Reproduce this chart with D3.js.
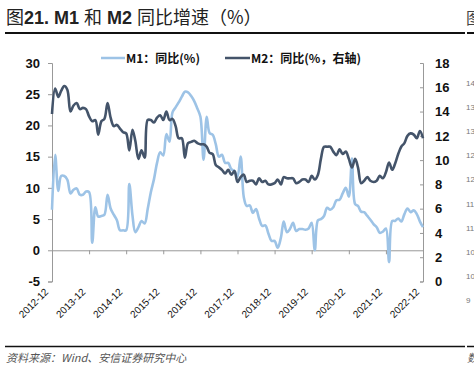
<!DOCTYPE html>
<html>
<head>
<meta charset="utf-8">
<script src="https://cdn.jsdelivr.net/npm/d3@7"></script>
<style>
  body { margin: 0; background: #fff; }
  svg { display: block; font-family: "Liberation Sans", Arial, sans-serif; }
  .title { font-size: 18px; fill: #222; }
  .source { font-size: 11px; fill: #555; font-style: italic; font-family: "Noto Sans CJK SC", sans-serif; }
  .axis text { font-size: 13px; font-weight: bold; fill: #111; }
  .axis path, .axis line { stroke: #999; }
  .xlab { font-size: 10px; fill: #111; }
  .legend text { font-size: 12px; font-weight: bold; fill: #111; }
</style>
</head>
<body>
<div class="chart"></div>
<script>
"use strict";

// months from 2012-12 to 2022-12
const start_month = "2012-12";
const x_tick_labels = ["2012-12", "2013-12", "2014-12", "2015-12", "2016-12", "2017-12",
    "2018-12", "2019-12", "2020-12", "2021-12", "2022-12"];

// M1 YoY (%), left axis
const m1_values = [
    6.5,
    15.3, 9.5, 11.9, 11.9, 11.3, 9.1, 9.7, 9.9, 8.9, 8.9, 9.4, 9.3,
    1.2, 6.9, 5.4, 5.5, 5.7, 8.9, 6.7, 5.7, 4.8, 3.2, 3.2, 3.2,
    10.6, 5.6, 2.9, 3.7, 4.7, 4.3, 6.6, 9.3, 11.4, 14.0, 15.7, 15.2,
    18.6, 17.4, 22.1, 22.9, 23.7, 24.6, 25.4, 25.3, 24.7, 23.9, 22.7, 21.4,
    14.5, 21.4, 18.8, 18.5, 17.0, 15.0, 15.3, 14.0, 14.0, 13.0, 12.7, 11.8,
    15.0, 8.5, 7.1, 7.2, 6.0, 6.6, 5.1, 3.9, 4.0, 2.7, 1.5, 1.5,
    0.4, 2.0, 4.6, 2.9, 3.4, 4.4, 3.1, 3.4, 3.4, 3.3, 3.5, 4.4,
    0.0, 4.8, 5.0, 5.5, 6.8, 6.5, 6.9, 8.0, 8.1, 9.1, 10.0, 8.6,
    14.7, 7.4, 7.1, 6.2, 6.1, 5.5, 4.9, 4.2, 3.7, 2.8, 3.0, 3.5,
    -1.9, 4.7, 4.7, 5.1, 4.6, 5.8, 6.7, 6.1, 6.4, 5.8, 4.6, 3.7
];

// M2 YoY (%), right axis
const m2_values = [
    13.8,
    15.9, 15.2, 15.7, 16.1, 15.8, 14.0, 14.5, 14.7, 14.2, 14.3, 14.2, 13.6,
    13.2, 13.3, 12.1, 13.2, 13.4, 14.7, 13.5, 12.8, 12.9, 12.6, 12.3, 12.2,
    10.8, 12.5, 11.6, 10.1, 10.8, 10.2, 13.3, 13.3, 13.1, 13.5, 13.7, 13.3,
    14.0, 13.3, 13.4, 12.8, 11.8, 11.8, 10.2, 11.4, 11.5, 11.6, 11.4, 11.3,
    11.3, 11.1, 10.6, 10.5, 9.6, 9.4, 9.2, 8.9, 9.2, 8.8, 9.1, 8.2,
    8.6, 8.8, 8.2, 8.3, 8.3, 8.0, 8.5, 8.2, 8.3, 8.0, 8.0, 8.1,
    8.4, 8.0, 8.6, 8.5, 8.5, 8.5, 8.1, 8.2, 8.4, 8.4, 8.2, 8.7,
    8.4, 8.8, 10.1, 11.1, 11.1, 11.1, 10.7, 10.4, 10.9, 10.5, 10.7, 10.1,
    9.4, 10.1, 9.4, 8.1, 8.3, 8.6, 8.3, 8.2, 8.3, 8.7, 8.5, 9.0,
    9.8, 9.2, 9.7, 10.5, 11.1, 11.4, 12.0, 12.2, 12.1, 11.8, 12.4, 11.8
];

const left_ticks = [-5, 0, 5, 10, 15, 20, 25, 30];
const right_ticks = [0, 2, 4, 6, 8, 10, 12, 14, 16, 18];
// cut-off labels of the neighbouring chart at the right edge
const neighbour_ticks = ["14", "13", "13", "12", "12", "11", "11", "10", "10", "9"];

window.onload = () => main();

function main() {
    const config = {
        width: 474, height: 368,
        left: 52, right: 423, top: 63, bottom: 281.5
    };

    const svg = d3.select(".chart").append("svg")
        .attr("width", config.width)
        .attr("height", config.height);

    const parse = d3.timeParse("%Y-%m");
    const t0 = parse(start_month);
    const months = m1_values.map((_, i) => d3.timeMonth.offset(t0, i));

    const x = d3.scaleTime()
        .domain([months[0], months[months.length - 1]])
        .range([config.left, config.right]);
    const y_left = d3.scaleLinear().domain([-5, 30]).range([config.bottom, config.top]);
    const y_right = d3.scaleLinear().domain([0, 18]).range([config.bottom, config.top]);

    // title + rules
    svg.append("text").attr("class", "title").attr("x", 6).attr("y", 24)
        .html('<tspan font-family="Noto Sans CJK SC">图</tspan><tspan font-weight="bold">21. M1 </tspan><tspan font-family="Noto Sans CJK SC">和</tspan><tspan font-weight="bold"> M2 </tspan><tspan font-family="Noto Sans CJK SC">同比增速（%）</tspan>');
    svg.append("text").attr("x", 466).attr("y", 24).attr("font-size", 16)
        .attr("fill", "#444").attr("font-family", "Noto Sans CJK SC").text("图");
    [[5, 465], [467, 474]].forEach(([a, b]) => {
        svg.append("line").attr("x1", a).attr("x2", b).attr("y1", 33).attr("y2", 33)
            .attr("stroke", "#111").attr("stroke-width", 2);
        svg.append("line").attr("x1", a).attr("x2", b).attr("y1", 346.5).attr("y2", 346.5)
            .attr("stroke", "#111").attr("stroke-width", 1.5);
    });
    svg.append("text").attr("class", "source").attr("x", 6).attr("y", 362)
        .text("资料来源：Wind、安信证券研究中心");
    svg.append("text").attr("class", "source").attr("x", 467).attr("y", 362).text("数");

    neighbour_ticks.forEach((t, i) => {
        svg.append("text").attr("x", 466).attr("y", 86 + i * 24.1)
            .attr("font-size", 8).attr("fill", "#777").text(t);
    });

    // axes
    svg.append("g").attr("class", "axis")
        .attr("transform", `translate(${config.left},0)`)
        .call(d3.axisLeft(y_left).tickValues(left_ticks).tickSize(4).tickPadding(8)
            .tickFormat(d => String(d)))
        .call(g => g.select(".domain").attr("stroke", "#888"));

    svg.append("g").attr("class", "axis")
        .attr("transform", `translate(${config.right},0)`)
        .call(d3.axisRight(y_right).tickValues(right_ticks).tickSize(-3).tickPadding(12))
        .call(g => g.select(".domain").attr("stroke", "#ccc"))
        .call(g => g.selectAll(".tick line").attr("stroke", "#bbb"));

    const tick_dates = x_tick_labels.map(parse);
    const x_axis = svg.append("g").attr("class", "axis")
        .attr("transform", `translate(0,${y_left(0)})`)
        .call(d3.axisBottom(x).tickValues(tick_dates).tickSize(4).tickFormat(""));
    x_axis.select(".domain").attr("stroke", "#777");

    svg.selectAll(".xlab").data(tick_dates).enter()
        .append("text").attr("class", "xlab")
        .attr("text-anchor", "end")
        .attr("transform", d => `translate(${x(d) - 3},${config.bottom + 11}) rotate(-45)`)
        .text(d => d3.timeFormat("%Y-%m")(d));

    // lines
    const line_m1 = d3.line().curve(d3.curveCatmullRom)
        .x((d, i) => x(months[i])).y(d => y_left(d));
    const line_m2 = d3.line().curve(d3.curveCatmullRom)
        .x((d, i) => x(months[i])).y(d => y_right(d));

    svg.append("path").datum(m1_values).attr("d", line_m1)
        .attr("fill", "none").attr("stroke", "#9DC3E6").attr("stroke-width", 2.6);
    svg.append("path").datum(m2_values).attr("d", line_m2)
        .attr("fill", "none").attr("stroke", "#44546A").attr("stroke-width", 2.6);

    // legend
    const legend = svg.append("g").attr("class", "legend");
    const items = [
        { x: 101, w: 24, color: "#9DC3E6", label: "M1：同比(%)" },
        { x: 225, w: 25, color: "#44546A", label: "M2：同比(%，右轴)" }
    ];
    items.forEach(it => {
        legend.append("line").attr("x1", it.x).attr("x2", it.x + it.w)
            .attr("y1", 58).attr("y2", 58).attr("stroke", it.color).attr("stroke-width", 2.5);
        legend.append("text").attr("x", it.x + it.w + 1).attr("y", 62.5)
            .attr("font-family", "Noto Sans CJK SC").text(it.label);
    });
}
</script>
</body>
</html>
